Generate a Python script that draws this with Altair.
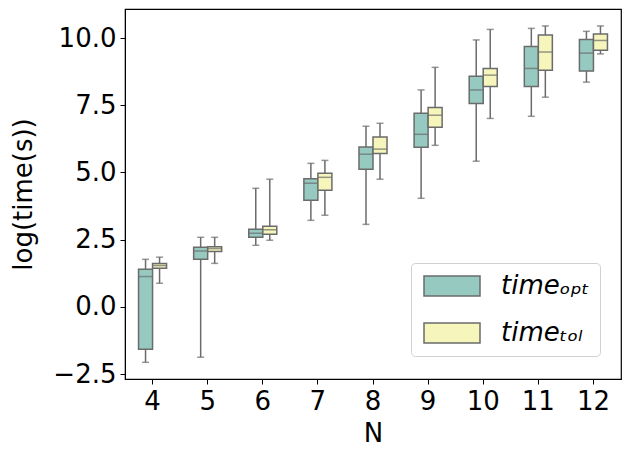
import altair as alt
import pandas as pd

ns = [4, 5, 6, 7, 8, 9, 10, 11, 12]
series_names = ["timeₒₚₜ", "timeₜₒₗ"]

opt_lo  = [-2.06, -1.87, 2.29, 3.22, 3.07, 4.04, 5.42, 7.09, 8.36]
opt_q1  = [-1.57, 1.77, 2.59, 3.97, 5.12, 5.94, 7.57, 8.20, 8.77]
opt_med = [1.13, 2.08, 2.74, 4.60, 5.68, 6.42, 8.07, 8.87, 9.44]
opt_q3  = [1.40, 2.22, 2.89, 4.77, 5.95, 7.20, 8.58, 9.69, 9.95]
opt_hi  = [1.77, 2.59, 4.41, 5.34, 6.72, 8.07, 9.93, 10.36, 10.25]

tol_lo  = [0.88, 1.62, 2.48, 3.41, 4.75, 6.01, 7.01, 7.80, 9.41]
tol_q1  = [1.44, 2.06, 2.70, 4.34, 5.71, 6.68, 8.20, 8.80, 9.55]
tol_med = [1.54, 2.17, 2.87, 4.82, 5.87, 7.13, 8.62, 9.48, 9.91]
tol_q3  = [1.62, 2.24, 3.00, 4.97, 6.32, 7.42, 8.87, 10.11, 10.15]
tol_hi  = [1.85, 2.59, 4.75, 5.45, 6.83, 8.91, 10.32, 10.45, 10.45]

y_ticks = [-2.5, 0.0, 2.5, 5.0, 7.5, 10.0]

rows = []
for name, lo, q1, med, q3, hi in [
    (series_names[0], opt_lo, opt_q1, opt_med, opt_q3, opt_hi),
    (series_names[1], tol_lo, tol_q1, tol_med, tol_q3, tol_hi),
]:
    for i, n in enumerate(ns):
        rows.append(dict(N=n, series=name, lo=lo[i], q1=q1[i], med=med[i], q3=q3[i], hi=hi[i]))
df = pd.DataFrame(rows)

EDGE = "#6b6b6b"
FONT = "DejaVu Sans"
colors = ["#96cac1", "#f5f5bc"]

x = alt.X("N:O", title="N",
          scale=alt.Scale(paddingInner=0, paddingOuter=0),
          axis=alt.Axis(labelAngle=0, labelFontSize=26, titleFontSize=26,
                        labelFont=FONT, titleFont=FONT, titleFontWeight="normal",
                        labelColor="black", titleColor="black",
                        tickSize=5, tickColor="black", domainColor="black",
                        labelPadding=4, titlePadding=6))
xo = alt.XOffset("series:N", sort=series_names,
                 scale=alt.Scale(paddingInner=0, paddingOuter=0.966))
yscale = alt.Scale(domain=[-2.68, 11.08], nice=False, zero=False)
yaxis = alt.Axis(values=y_ticks, format=".1f", labelFontSize=26, titleFontSize=26,
                 labelFont=FONT, titleFont=FONT, titleFontWeight="normal",
                 labelColor="black", titleColor="black", grid=False,
                 tickSize=5, tickColor="black", domainColor="black",
                 labelPadding=4, titlePadding=16)

base = alt.Chart(df).encode(x=x, xOffset=xo)

whisk_lo = base.mark_rule(color=EDGE, strokeWidth=1.5).encode(
    y=alt.Y("lo:Q", scale=yscale, axis=yaxis, title="log(time(s))"), y2="q1:Q")
whisk_hi = base.mark_rule(color=EDGE, strokeWidth=1.5).encode(
    y=alt.Y("q3:Q", scale=yscale), y2="hi:Q")
box = base.mark_bar(stroke=EDGE, strokeWidth=1.5).encode(
    y=alt.Y("q1:Q", scale=yscale), y2="q3:Q",
    fill=alt.Fill("series:N", sort=series_names,
                  scale=alt.Scale(domain=series_names, range=colors),
                  legend=alt.Legend(title=None, orient="none", legendX=286, legendY=254,
                                    symbolType="M-1,-1L4.6,-1L4.6,1L-1,1Z",
                                    symbolSize=400, symbolStrokeColor=EDGE,
                                    symbolStrokeWidth=1.5,
                                    labelFontSize=26, labelFont=FONT,
                                    labelFontStyle="italic", labelColor="black",
                                    labelOffset=54, rowPadding=21,
                                    padding=10, fillColor="white",
                                    strokeColor="#d0d0d0", cornerRadius=4)))
median = base.mark_tick(color=EDGE, thickness=1.5, size=14, orient="horizontal").encode(
    y=alt.Y("med:Q", scale=yscale))
cap_lo = base.mark_tick(color=EDGE, thickness=1.5, size=7, orient="horizontal").encode(
    y=alt.Y("lo:Q", scale=yscale))
cap_hi = base.mark_tick(color=EDGE, thickness=1.5, size=7, orient="horizontal").encode(
    y=alt.Y("hi:Q", scale=yscale))

chart = alt.layer(whisk_lo, whisk_hi, box, median, cap_lo, cap_hi).properties(
    width=496, height=370,
    autosize=alt.AutoSizeParams(type="none"),
    padding={"left": 117, "top": 1, "right": 1, "bottom": 73},
).configure_view(stroke="black", strokeWidth=1.2)

chart.save("out.html", embed_options={"renderer": "svg", "actions": False})
